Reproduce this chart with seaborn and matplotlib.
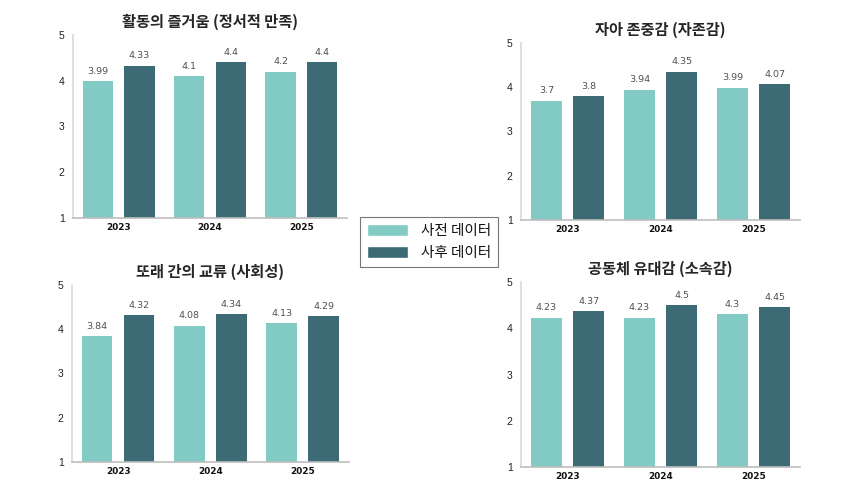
import matplotlib
matplotlib.use("Agg")
import matplotlib.pyplot as plt
from matplotlib.patches import Patch
from matplotlib.font_manager import FontProperties
import pandas as pd
import seaborn as sns

# ============================================
# data
# ============================================
years = ["2023", "2024", "2025"]
groups = ["사전 데이터", "사후 데이터"]

titles = ["활동의 즐거움 (정서적 만족)", "자아 존중감 (자존감)",
          "또래 간의 교류 (사회성)", "공동체 유대감 (소속감)"]

pre_joy = [3.99, 4.1, 4.2]
post_joy = [4.33, 4.4, 4.4]
pre_esteem = [3.7, 3.94, 3.99]
post_esteem = [3.8, 4.35, 4.07]
pre_social = [3.84, 4.08, 4.13]
post_social = [4.32, 4.34, 4.29]
pre_belong = [4.23, 4.23, 4.3]
post_belong = [4.37, 4.5, 4.45]

series = [(pre_joy, post_joy), (pre_esteem, post_esteem),
          (pre_social, post_social), (pre_belong, post_belong)]

light = "#81cbc4"
dark = "#3d6b75"

# ============================================
# figure
# ============================================
sns.set_style("white")
plt.rcParams["font.family"] = ["Noto Sans CJK KR", "DejaVu Sans"]

fig = plt.figure(figsize=(8.6, 4.84), dpi=100)

# axes boxes [left, bottom, width, height]
boxes = [
    [0.0849, 0.5496, 0.3186, 0.3781],
    [0.6058, 0.5455, 0.3244, 0.3657],
    [0.0837, 0.0455, 0.3221, 0.3657],
    [0.6058, 0.0351, 0.3244, 0.3822],
]

val_font = FontProperties(family="DejaVu Sans", size=6.8)
year_font = FontProperties(family="DejaVu Sans", weight="bold", size=6.4)
ytick_font = FontProperties(family="Liberation Sans", size=7.5)

for box, title, (pre, post) in zip(boxes, titles, series):
    ax = fig.add_axes(box)
    df = pd.DataFrame({
        "year": years * 2,
        "group": [groups[0]] * 3 + [groups[1]] * 3,
        "value": pre + post,
    })
    sns.barplot(data=df, x="year", y="value", hue="group",
                palette=[light, dark], saturation=1, width=0.91, gap=0.27,
                linewidth=0, legend=False, ax=ax, errorbar=None)

    for cont in ax.containers:
        ax.bar_label(cont, labels=[f"{v:g}" for v in cont.datavalues],
                     padding=4, fontproperties=val_font, color="#505050")

    ax.set_ylim(1, 5)
    ax.set_xlim(-0.5, 2.5)
    ax.set_yticks([1, 2, 3, 4, 5])
    ax.set_yticklabels(["1", "2", "3", "4", "5"], fontproperties=ytick_font,
                       color="#222222")
    ax.set_xticks([0, 1, 2])
    ax.set_xticklabels(years, fontproperties=year_font, color="#111111")
    ax.set_xlabel("")
    ax.set_ylabel("")
    ax.set_title(title, fontsize=11, fontweight="bold", pad=6)

    ax.tick_params(axis="both", length=0)
    ax.tick_params(axis="y", pad=6)

    sns.despine(ax=ax)
    ax.spines["left"].set_color("#d9d9d9")
    ax.spines["left"].set_linewidth(1.2)
    ax.spines["bottom"].set_color("#bdbdbd")
    ax.spines["bottom"].set_linewidth(1.2)

# shared legend in the middle
handles = [Patch(facecolor=light, label=groups[0]),
           Patch(facecolor=dark, label=groups[1])]
leg = fig.legend(handles=handles, loc="center", bbox_to_anchor=(0.499, 0.5),
                 fontsize=10.5, frameon=True, fancybox=False,
                 handlelength=2.8, handleheight=0.9, handletextpad=0.9,
                 borderpad=0.5, labelspacing=0.55)
leg.get_frame().set_edgecolor("#555555")
leg.get_frame().set_linewidth(0.8)
for txt in leg.get_texts():
    txt.set_color("#111111")

fig.savefig("out.png", dpi=100)
